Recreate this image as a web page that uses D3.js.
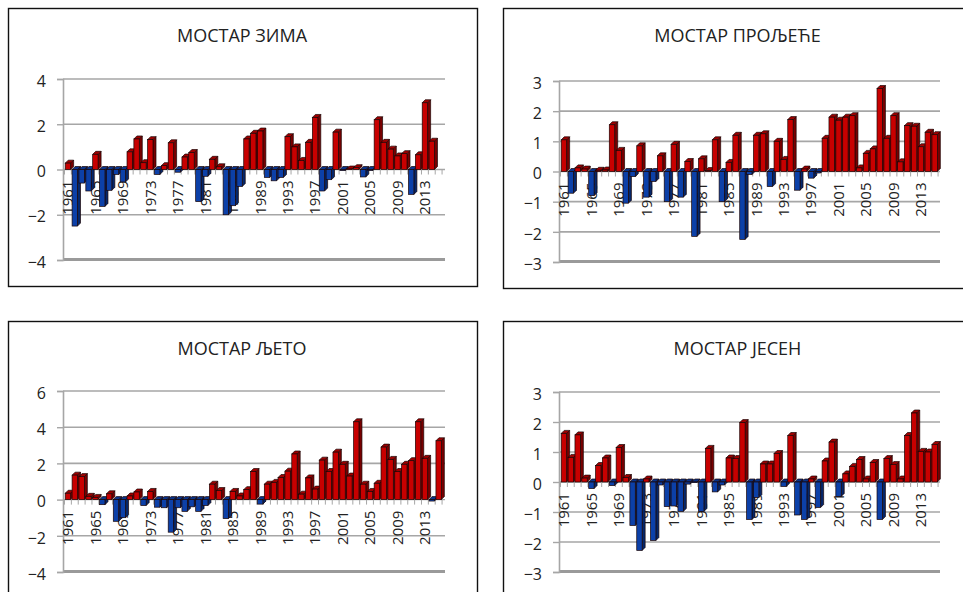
<!DOCTYPE html>
<html>
<head>
<meta charset="utf-8">
<script src="https://cdn.jsdelivr.net/npm/d3@7/dist/d3.min.js"></script>
<style>
  html, body { margin: 0; padding: 0; background: #fff; overflow: hidden; }
  svg { display: block; }
  text { font-family: "Open Sans", "Noto Sans", sans-serif; fill: #222; }
</style>
</head>
<body>
<svg id="chart" width="963" height="592"></svg>
<script>
// Seasonal temperature anomalies (°C), Mostar, 1961–2015
const years = [
  1961, 1962, 1963, 1964, 1965, 1966, 1967, 1968, 1969, 1970,
  1971, 1972, 1973, 1974, 1975, 1976, 1977, 1978, 1979, 1980,
  1981, 1982, 1983, 1984, 1985, 1986, 1987, 1988, 1989, 1990,
  1991, 1992, 1993, 1994, 1995, 1996, 1997, 1998, 1999, 2000,
  2001, 2002, 2003, 2004, 2005, 2006, 2007, 2008, 2009, 2010,
  2011, 2012, 2013, 2014, 2015
];

const yearTickLabels = [1961, 1965, 1969, 1973, 1977, 1981, 1985, 1989, 1993, 1997, 2001, 2005, 2009, 2013];

const titles = ["МОСТАР ЗИМА", "МОСТАР ПРОЉЕЋЕ", "МОСТАР ЉЕТО", "МОСТАР ЈЕСЕН"];

// winter (no value yet for the last season)
const zima = [
  0.28, -2.5, -0.6, -0.95, 0.67, -1.63, -0.92, -0.22, -0.55, 0.78,
  1.35, 0.3, 1.32, -0.22, 0.17, 1.18, -0.12, 0.55, 0.75, -1.42,
  -0.3, 0.45, 0.12, -2.0, -1.6, -0.75, 1.35, 1.6, 1.7, -0.35,
  -0.5, -0.35, 1.45, 1.0, 0.4, 1.2, 2.3, -0.95, -0.45, 1.65,
  -0.05, 0.02, 0.08, -0.33, -0.05, 2.2, 1.2, 0.9, 0.6, 0.7,
  -1.1, 0.65, 2.95, 1.25, null
];

// spring
const proljece = [
  1.05, -0.72, 0.12, 0.08, -0.8, 0.04, 0.05, 1.55, 0.7, -1.05,
  -0.17, 0.85, -0.85, -0.33, 0.52, -1.0, 0.9, -0.85, 0.33, -2.15,
  0.42, 0.03, 1.05, -1.0, 0.3, 1.2, -2.25, -0.1, 1.2, 1.25,
  -0.5, 1.0, 0.4, 1.72, -0.62, 0.08, -0.22, -0.05, 1.1, 1.8,
  1.7, 1.8, 1.85, 0.12, 0.6, 0.75, 2.75, 1.1, 1.85, 0.32,
  1.52, 1.5, 0.82, 1.3, 1.22
];

// summer
const ljeto = [
  0.35, 1.35, 1.27, 0.18, 0.12, -0.28, 0.32, -1.2, -1.0, 0.2,
  0.42, -0.33, 0.45, -0.42, -0.45, -1.8, -0.45, -0.65, -0.4, -0.65,
  -0.33, 0.85, 0.5, -1.05, 0.45, 0.2, 0.55, 1.55, -0.25, 0.85,
  0.95, 1.22, 1.57, 2.52, 0.3, 1.2, 0.58, 2.18, 1.55, 2.62,
  1.95, 1.3, 4.3, 0.85, 0.45, 0.9, 2.9, 2.22, 1.55, 1.95,
  2.15, 4.3, 2.28, -0.08, 3.25
];

// autumn
const jesen = [
  1.62, 0.82, 1.57, 0.13, -0.22, 0.55, 0.8, -0.12, 1.15, 0.15,
  -1.45, -2.28, 0.1, -1.95, -0.1, -0.82, -0.8, -0.98, -0.07, -0.02,
  -0.98, 1.12, -0.33, -0.1, 0.8, 0.78, 1.98, -1.25, -0.52, 0.6,
  0.6, 0.95, -0.15, 1.55, -1.1, -1.25, 0.1, -0.85, 0.7, 1.33,
  -0.48, 0.27, 0.52, 0.75, 0.1, 0.65, -1.25, 0.78, 0.58, 0.1,
  1.55, 2.3, 1.02, 1.0, 1.25
];

const ticksZima = [-4, -2, 0, 2, 4];
const ticksProljece = [-3, -2, -1, 0, 1, 2, 3];
const ticksLjeto = [-4, -2, 0, 2, 4, 6];
const ticksJesen = [-3, -2, -1, 0, 1, 2, 3];

// Panel layout
const panels = [
  { title: titles[0], values: zima,     ticks: ticksZima,     frame: { x: 8,   y: 8,   w: 469, h: 278 }, plot: { l: 63,  r: 445, t: 79,  b: 260 } },
  { title: titles[1], values: proljece, ticks: ticksProljece, frame: { x: 503, y: 8,   w: 470, h: 280 }, plot: { l: 559, r: 940, t: 81,  b: 262 } },
  { title: titles[2], values: ljeto,    ticks: ticksLjeto,    frame: { x: 8,   y: 321, w: 469, h: 290 }, plot: { l: 63,  r: 445, t: 391, b: 572 } },
  { title: titles[3], values: jesen,    ticks: ticksJesen,    frame: { x: 503, y: 321, w: 470, h: 290 }, plot: { l: 559, r: 940, t: 392, b: 572 } }
];

const STEP = 6.865;      // category width
const FRONT = 5.4;       // bar front-face width
const DX = 3, DY = 3;    // depth offset of the 3-D columns
const GRID = "#a6a6a6";

const palette = {
  pos: { front: "#c80000", top: "#9e0000", side: "#780000" },
  neg: { front: "#0c40a8", top: "#08338a", side: "#05276b" }
};

const svg = d3.select("#chart");

panels.forEach(p => {
  const g = svg.append("g");

  // chart frame
  g.append("rect")
    .attr("x", p.frame.x + 0.5).attr("y", p.frame.y + 0.5)
    .attr("width", p.frame.w).attr("height", p.frame.h)
    .attr("fill", "#fff").attr("stroke", "#111").attr("stroke-width", 1.4);

  // title
  g.append("text")
    .attr("x", p.frame.x + p.frame.w / 2 - 0.5)
    .attr("y", p.frame.y + 34)
    .attr("text-anchor", "middle")
    .style("font-size", "18px")
    .text(p.title);

  const x = d3.scaleBand()
    .domain(years)
    .range([p.plot.l + 1.5, p.plot.l + 1.5 + STEP * years.length])
    .padding(0);

  const y = d3.scaleLinear()
    .domain(d3.extent(p.ticks))
    .range([p.plot.b, p.plot.t]);

  const y0 = y(0);
  const lo = d3.min(p.ticks);

  // back-wall gridlines
  g.append("g").selectAll("line")
    .data(p.ticks.filter(t => t !== lo && t !== 0))
    .join("line")
    .attr("x1", p.plot.l).attr("x2", p.plot.r)
    .attr("y1", d => y(d)).attr("y2", d => y(d))
    .attr("stroke", GRID).attr("stroke-width", 1.6);

  // floor
  g.append("line")
    .attr("x1", p.plot.l).attr("x2", p.plot.r)
    .attr("y1", y(lo) - 0.5).attr("y2", y(lo) - 0.5)
    .attr("stroke", "#9a9a9a").attr("stroke-width", 3);

  // value axis (left wall)
  const yAxis = d3.axisLeft(y)
    .tickValues(p.ticks)
    .tickSize(6)
    .tickPadding(11)
    .tickFormat(d3.format("d"));

  const ya = g.append("g")
    .attr("transform", `translate(${p.plot.l},0)`)
    .call(yAxis);
  ya.select(".domain").attr("stroke", GRID).attr("stroke-width", 1.6);
  ya.selectAll(".tick line").attr("stroke", GRID).attr("stroke-width", 1.4);
  ya.selectAll(".tick text")
    .attr("dy", "0.45em")
    .style("font-size", "16px")
    .style("font-family", "'Open Sans', 'Noto Sans', sans-serif")
    .attr("fill", "#222");

  // category axis at zero
  g.append("line")
    .attr("x1", p.plot.l).attr("x2", p.plot.r)
    .attr("y1", y0).attr("y2", y0)
    .attr("stroke", GRID).attr("stroke-width", 1.4);

  const bounds = years.map(yr => x(yr)).concat([x(years[years.length - 1]) + x.bandwidth()]);
  g.append("g").selectAll("line")
    .data(bounds)
    .join("line")
    .attr("x1", d => d).attr("x2", d => d)
    .attr("y1", y0).attr("y2", y0 + 5)
    .attr("stroke", GRID).attr("stroke-width", 1);

  // year labels
  g.append("g").selectAll("text")
    .data(yearTickLabels)
    .join("text")
    .attr("transform", d => `translate(${x(d) + x.bandwidth() / 2},${y0 + 11}) rotate(-90)`)
    .attr("text-anchor", "end")
    .attr("dy", "0.36em")
    .style("font-size", "15px")
    .text(d => d);

  // 3-D columns, drawn left to right so each front face hides the previous side
  const bars = years.map((yr, i) => ({ year: yr, v: p.values[i] })).filter(d => d.v !== null);

  const cols = g.append("g").selectAll("g")
    .data(bars)
    .join("g");

  cols.each(function (d) {
    const c = d3.select(this);
    const col = d.v >= 0 ? palette.pos : palette.neg;
    const xc = x(d.year) + x.bandwidth() / 2;
    const x0 = xc - FRONT / 2, x1 = xc + FRONT / 2;
    const yv = y(d.v);
    const yTop = Math.min(yv, y0), yBot = Math.max(yv, y0);
    const stroke = "#1a0505";

    // side face
    c.append("path")
      .attr("d", `M${x1},${yTop}L${x1 + DX},${yTop - DY}L${x1 + DX},${yBot - DY}L${x1},${yBot}Z`)
      .attr("fill", col.side).attr("stroke", stroke).attr("stroke-width", 0.7).attr("stroke-linejoin", "round");
    // top face
    c.append("path")
      .attr("d", `M${x0},${yTop}L${x0 + DX},${yTop - DY}L${x1 + DX},${yTop - DY}L${x1},${yTop}Z`)
      .attr("fill", col.top).attr("stroke", stroke).attr("stroke-width", 0.7).attr("stroke-linejoin", "round");
    // front face
    c.append("rect")
      .attr("x", x0).attr("y", yTop)
      .attr("width", FRONT).attr("height", Math.max(yBot - yTop, 0.01))
      .attr("fill", col.front).attr("stroke", stroke).attr("stroke-width", 0.7);
  });
});
</script>
</body>
</html>
